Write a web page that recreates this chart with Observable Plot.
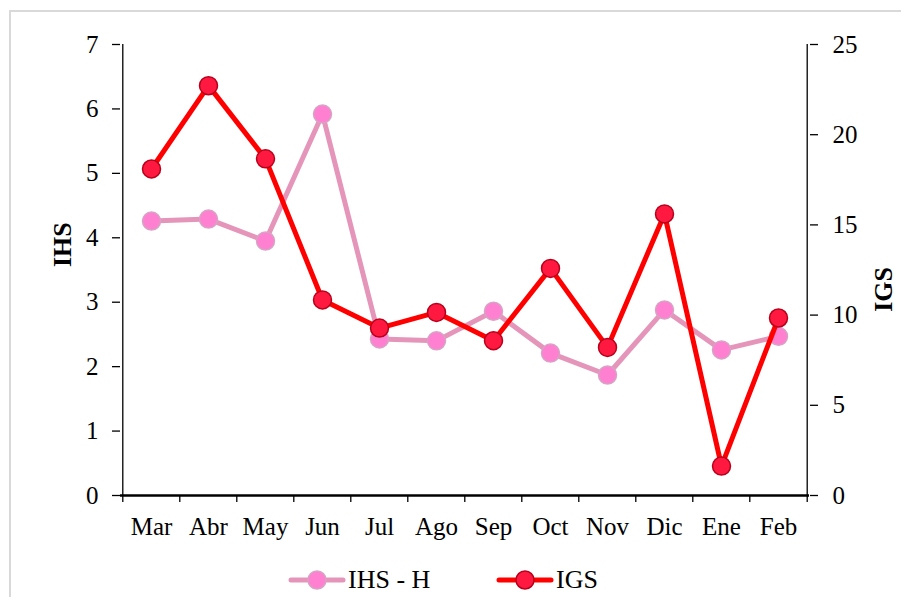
<!DOCTYPE html>
<html><head><meta charset="utf-8">
<script src="https://cdn.jsdelivr.net/npm/d3@7"></script>
<script src="https://cdn.jsdelivr.net/npm/@observablehq/plot@0.6"></script>
<style>
body{margin:0;background:#fff;font-family:'Times New Roman',serif;}
#frame{position:absolute;left:9px;top:10px;width:890px;height:585px;border:2px solid #d9d9d9;border-right:none;border-bottom:none;}
#chart{position:absolute;left:0;top:0;}
#legend{position:absolute;left:0;top:563px;width:904px;height:34px;font-size:26px;color:#000;}
.item{position:absolute;top:0;height:34px;display:flex;align-items:center;}
.item svg{display:block;}
.item span{margin-left:2px;line-height:34px;}
</style></head><body>
<div id="frame"></div><div id="chart"></div><div id="legend"></div>
<script>
const months = ["Mar","Abr","May","Jun","Jul","Ago","Sep","Oct","Nov","Dic","Ene","Feb"];
const ihs = [4.26, 4.29, 3.95, 5.92, 2.43, 2.40, 2.86, 2.21, 1.87, 2.88, 2.26, 2.47];
const igs = [18.10, 22.72, 18.66, 10.84, 9.28, 10.15, 8.58, 12.59, 8.21, 15.61, 1.63, 9.84];
const ihsTicks = [0, 1, 2, 3, 4, 5, 6, 7];
const igsTicks = [0, 5, 10, 15, 20, 25];
const seriesNames = ["IHS - H", "IGS"];

const ihsMax = 7, igsMax = 25;
const k = ihsMax / igsMax; // map IGS onto the IHS scale (secondary axis)

const data = months.map((m, i) => ({month: m, ihs: ihs[i], igs: igs[i]}));

const W = 904, H = 545, ML = 120, MR = 95, MT = 44, MB = 50;
const step = (W - ML - MR) / months.length;
const font = "'Times New Roman', serif";

const pinkLine = "#e595b9", pinkFill = "#ff7fd0", pinkStroke = "#d8a2c4";
const redLine = "#ff0000", redFill = "#ff1941", redStroke = "#b8001a";

const plot = Plot.plot({
  width: W, height: H,
  marginLeft: ML, marginRight: MR, marginTop: MT, marginBottom: MB,
  style: {fontFamily: font, fontSize: "25px"},
  x: {type: "point", domain: months, padding: 0.5},
  y: {domain: [0, ihsMax]},
  marks: [
    Plot.axisY(ihsTicks, {anchor: "left", tickSize: 8, tickPadding: 14, label: null, fontSize: 25, strokeWidth: 1.3,
      tickFormat: d => String(d)}),
    Plot.axisY(igsTicks.map(t => t * k), {anchor: "right", tickSize: 8, tickPadding: 15, label: null, fontSize: 25, strokeWidth: 1.3,
      tickFormat: d => String(Math.round(d / k))}),
    Plot.axisX(months, {anchor: "bottom", tickSize: 0, tickPadding: 22, label: null, fontSize: 25}),
    // category boundary ticks below the x axis
    Plot.ruleX(months, {x: d => d, dx: -step / 2, insetTop: H - MT - MB, insetBottom: -7, stroke: "#000", strokeWidth: 1.3}),
    // left and right axis lines
    Plot.ruleX([months[0]], {x: d => d, dx: -step / 2, stroke: "#000", strokeWidth: 1.3}),
    Plot.ruleX([months[months.length - 1]], {x: d => d, dx: step / 2, insetBottom: -7, stroke: "#000", strokeWidth: 1.3}),
    Plot.ruleY([0], {stroke: "#000", strokeWidth: 2.5}),
    Plot.line(data, {x: "month", y: "ihs", stroke: pinkLine, strokeWidth: 5}),
    Plot.dot(data, {x: "month", y: "ihs", r: 9, fill: pinkFill, stroke: pinkStroke, strokeWidth: 1.5}),
    Plot.line(data, {x: "month", y: d => d.igs * k, stroke: redLine, strokeWidth: 5}),
    Plot.dot(data, {x: "month", y: d => d.igs * k, r: 9, fill: redFill, stroke: redStroke, strokeWidth: 1.5}),
    Plot.text(["IHS"], {text: d => d, frameAnchor: "left", dx: -58, dy: -3, rotate: -90, fontWeight: "bold", fontSize: 26, fill: "#000"}),
    Plot.text(["IGS"], {text: d => d, frameAnchor: "right", dx: 74, dy: -3, rotate: -90, fontWeight: "bold", fontSize: 26, fill: "#000"})
  ]
});
document.getElementById("chart").appendChild(plot);

// legend
const legend = document.getElementById("legend");
const items = [
  {name: seriesNames[0], left: 288, line: pinkLine, fill: pinkFill, stroke: pinkStroke},
  {name: seriesNames[1], left: 496, line: redLine, fill: redFill, stroke: redStroke}
];
for (const it of items) {
  const div = document.createElement("div");
  div.className = "item";
  div.style.left = it.left + "px";
  div.innerHTML = `<svg width="58" height="24"><line x1="3" x2="55" y1="12" y2="12" stroke="${it.line}" stroke-width="5" stroke-linecap="round"/><circle cx="29" cy="12" r="9" fill="${it.fill}" stroke="${it.stroke}" stroke-width="1.5"/></svg><span>${it.name}</span>`;
  legend.appendChild(div);
}
</script>
</body></html>
